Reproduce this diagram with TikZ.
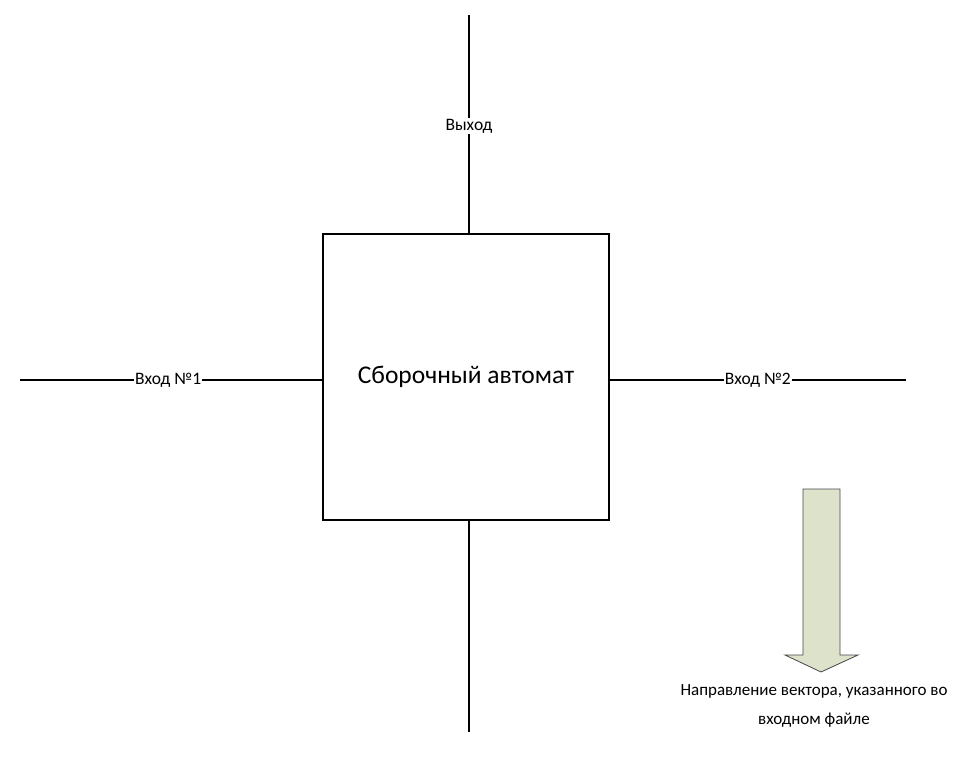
\documentclass[tikz,border=0pt]{standalone}
\usepackage{fontspec}
\setmainfont{Carlito}
\definecolor{arrowfill}{RGB}{221,226,203}
\definecolor{arrowline}{RGB}{70,70,70}
\begin{document}
\begin{tikzpicture}[x=1pt,y=-1pt]
    \useasboundingbox (0,0) rectangle (972,758);

    \begin{scope}[every node/.style={draw, line width=1.2pt, minimum size=286pt, inner sep=0pt, font=\fontsize{25.5}{30}\selectfont}]
        \node (box) at (466,377) {Сборочный автомат};
    \end{scope}

    \coordinate (top) at (469,15);
    \coordinate (bottom) at (469,732);
    \coordinate (left) at (20,380);
    \coordinate (right) at (906,380);

    \begin{scope}[every edge/.style={draw,line width=1.2pt}, every node/.style={fill=white, inner sep=1pt, font=\fontsize{17.5}{21}\selectfont}]
        \path [-] (top) edge node[pos=0.51] (out) {Выход} (box.north -| top);
        \path [-] (box.south -| bottom) edge (bottom);
        \path [-] (left) edge node[pos=0.49] (in1) {Вход №1} (box.west |- left);
        \path [-] (box.east |- right) edge node[pos=0.5] (in2) {Вход №2} (right);
    \end{scope}

    \draw [arrowline, fill=arrowfill, line width=0.8pt]
        (803,489) -- (840,489) -- (840,655) -- (858,655) -- (821,672)
        -- (785,655) -- (803,655) -- cycle;
    \node [align=center, font=\fontsize{17}{29}\selectfont] (vec) at (814,706)
        {Направление вектора, указанного во\\входном файле};
\end{tikzpicture}
\end{document}
